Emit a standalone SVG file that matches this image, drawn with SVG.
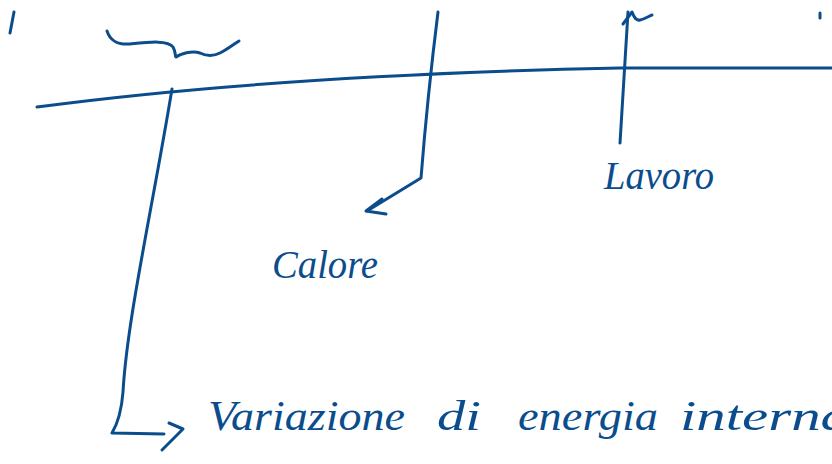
<svg xmlns="http://www.w3.org/2000/svg" width="832" height="464" viewBox="0 0 832 464">
<style>
.s{fill:none;stroke:#0b4d8c;stroke-width:3;stroke-linecap:round;stroke-linejoin:round}
.t{fill:#0b4d8c;font-family:"Liberation Serif",serif;font-style:italic}
</style>
<rect width="832" height="464" fill="#ffffff"/>
<g id="connectors">
<path class="s" d="M14,12 L10,33"/>
<path class="s" d="M820,13 L820,18"/>
<path class="s" d="M107,31 C110,40 116,45 130,44 C150,42 168,40 173,47 C176,52 175,57 176,57 C180,54 192,50 200,53 C206,56 212,57 220,53 C228,49 234,44 239,41"/>
<path class="s" d="M37,107 C150,92 330,74 620,68 L832,68"/>
<path class="s" d="M172,89 C152,210 127,320 123,392 Q121,418 112,433 L164,434"/>
<path class="s" d="M169,423 L183,429 L162,450"/>
<path class="s" d="M438,12 C432,60 424,140 421,178 L367,211"/>
<path class="s" d="M382,199 L366,211 L386,214"/>
<path class="s" d="M620,143 L628,12"/>
<path class="s" d="M623,24 L632,12 C634,17 636,21 640,20 C645,19 649,16 652,15"/>
</g>
<g id="calore"><text class="t" x="272" y="278" font-size="40" textLength="106" lengthAdjust="spacingAndGlyphs">Calore</text></g>
<g id="lavoro"><text class="t" x="604" y="189" font-size="40" textLength="110" lengthAdjust="spacingAndGlyphs">Lavoro</text></g>
<g id="variazione">
<text class="t" x="208" y="430" font-size="42" textLength="197" lengthAdjust="spacingAndGlyphs">Variazione</text>
<text class="t" x="437" y="430" font-size="42" textLength="44" lengthAdjust="spacingAndGlyphs">di</text>
<text class="t" x="518" y="430" font-size="42" textLength="140" lengthAdjust="spacingAndGlyphs">energia</text>
<text class="t" x="680" y="430" font-size="42" textLength="170" lengthAdjust="spacingAndGlyphs">interna</text>
</g>
</svg>
